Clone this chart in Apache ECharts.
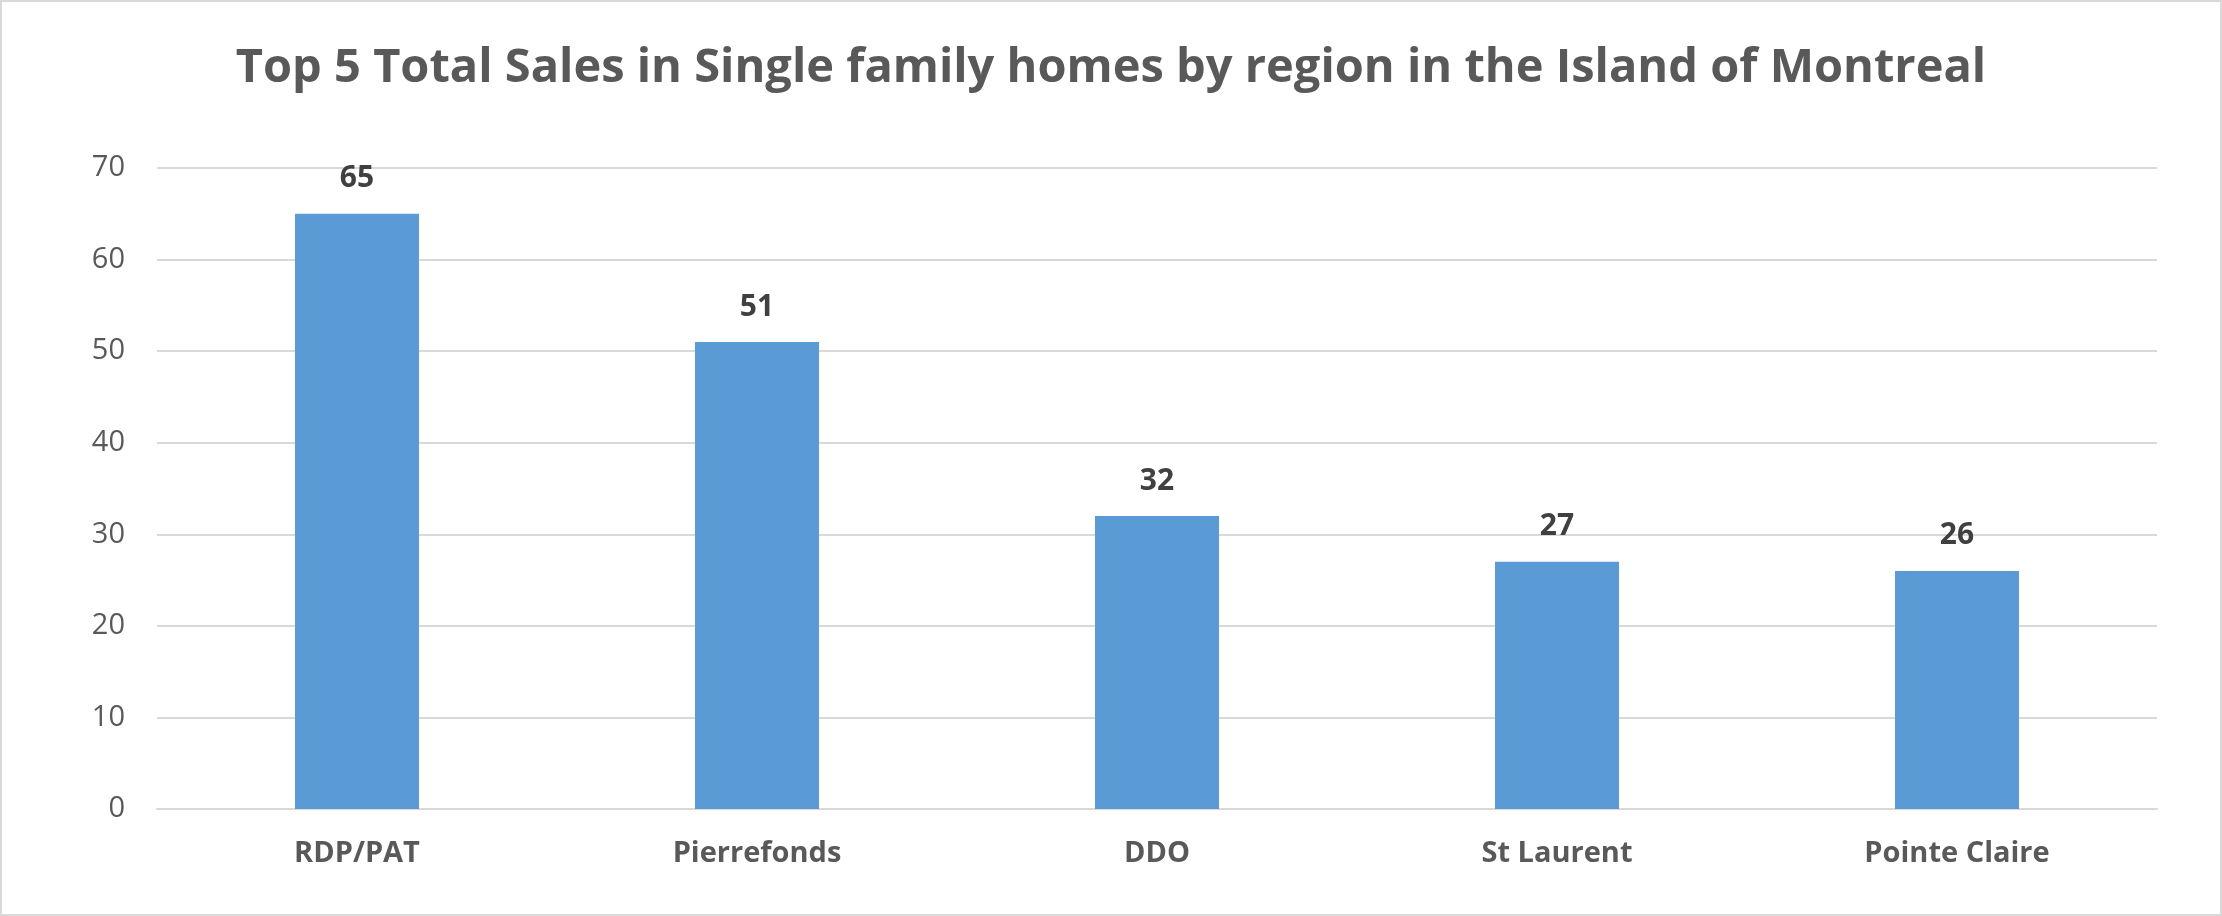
<!DOCTYPE html>
<html><head><meta charset="utf-8">
<script src="https://cdn.jsdelivr.net/npm/echarts@6/dist/echarts.min.js"></script>
<style>html,body{margin:0;padding:0;background:#fff}#c{width:2222px;height:916px;box-sizing:border-box;border:2px solid #d9d9d9}</style>
</head><body><div id="c"></div>
<script>
const categories = ["RDP/PAT", "Pierrefonds", "DDO", "St Laurent", "Pointe Claire"];
const sales = [65, 51, 32, 27, 26];
const titleText = "Top 5 Total Sales in Single family homes by region in the Island of Montreal";

const chart = echarts.init(document.getElementById('c'), null, {renderer: 'canvas'});
chart.setOption({
  animation: false,
  backgroundColor: '#fff',
  title: {
    text: titleText,
    left: 'center',
    top: 38,
    textStyle: {fontFamily: 'Open Sans', fontWeight: 'bold', fontSize: 47, color: '#595959'}
  },
  grid: {left: 155, right: 63, top: 166, bottom: 105},
  xAxis: {
    type: 'category',
    data: categories,
    axisLine: {lineStyle: {color: '#d9d9d9', width: 2}},
    axisTick: {show: false},
    axisLabel: {fontFamily: 'Open Sans', fontWeight: 'bold', fontSize: 29, color: '#595959', margin: 30}
  },
  yAxis: {
    type: 'value',
    min: 0, max: 70, interval: 10,
    axisLine: {show: false},
    axisTick: {show: false},
    splitLine: {lineStyle: {color: '#d9d9d9', width: 2}},
    axisLabel: {fontFamily: 'Open Sans', fontSize: 29, color: '#595959', margin: 32}
  },
  series: [{
    type: 'bar',
    data: sales,
    barWidth: '31%',
    itemStyle: {color: '#5b9bd5'},
    label: {show: true, position: 'top', distance: 20, fontFamily: 'Open Sans', fontWeight: 'bold', fontSize: 30, color: '#404040'}
  }]
});
</script></body></html>
